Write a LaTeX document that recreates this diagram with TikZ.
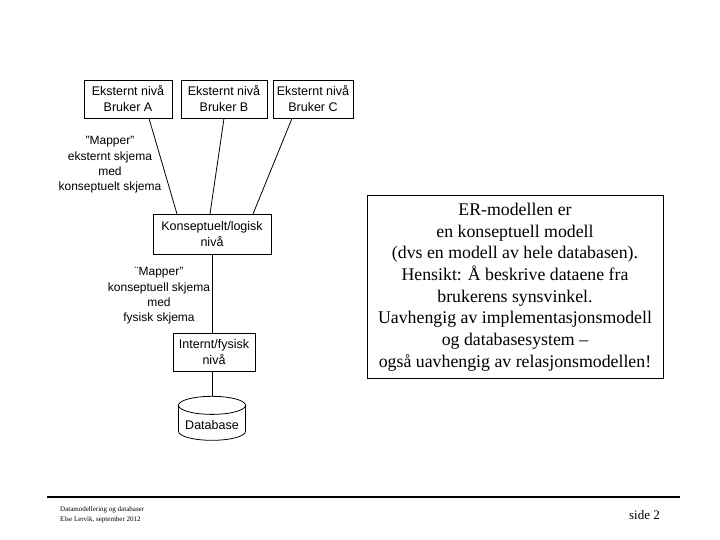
\documentclass[tikz,border=0pt]{standalone}
\usepackage{fontspec}
\setmainfont{Liberation Serif}
\setsansfont{Liberation Sans}
\usetikzlibrary{shapes.geometric,positioning}

\begin{document}
\begin{tikzpicture}[x=1pt,y=-1pt,
    level/.style={draw, thick, fill=white, align=center, inner sep=2pt,
                  font=\sffamily\fontsize{12.5}{16}\selectfont},
    maplabel/.style={align=center, font=\sffamily\fontsize{12}{15.3}\selectfont},
    link/.style={thick},
    infobox/.style={draw, thick, align=center, minimum width=296pt, minimum height=183pt,
                    font=\fontsize{17.8}{21.7}\selectfont}
]
\useasboundingbox (0,0) rectangle (720,540);

% External levels
\node[level, minimum width=88pt, minimum height=38pt] (extA) at (128, 99) {Eksternt nivå\\Bruker A};
\node[level, minimum width=86pt, minimum height=38pt] (extB) at (224, 99) {Eksternt nivå\\Bruker B};
\node[level, minimum width=80pt, minimum height=38pt] (extC) at (313, 99) {Eksternt nivå\\Bruker C};

% Conceptual and internal levels
\node[level, minimum width=118pt, minimum height=40pt] (concept) at (212, 234) {Konseptuelt/logisk\\nivå};
\node[level, minimum width=82pt, minimum height=38pt] (intern) at (214, 352) {Internt/fysisk\\nivå};
\node[draw, thick, cylinder, shape border rotate=90, aspect=0.3,
      minimum width=67pt, minimum height=44pt, font=\sffamily\fontsize{12.5}{16}\selectfont]
      (db) at (212, 425) {Database};

\coordinate (cA) at (177, 214);
\coordinate (cB) at (210, 214);
\coordinate (cC) at (253, 214);
\draw[link] (extA.south -| 149,0) -- (cA);
\draw[link] (extB.south -| 224,0) -- (cB);
\draw[link] (extC.south -| 292,0) -- (cC);
\draw[link] (concept.south) -- (intern.north -| concept.south);
\draw[link] (intern.south -| concept.south) -- (db.north -| concept.south);

% Mapping labels
\node[maplabel] (map1) at (110, 165) {”Mapper”\\eksternt skjema\\med\\konseptuelt skjema};
\node[maplabel] (map2) at (159, 296) {¨Mapper”\\konseptuell skjema\\med\\fysisk skjema};

% Comment box
\node[infobox] (info) at (515, 287) {ER-modellen er\\en konseptuell modell\\(dvs en modell av hele databasen).\\Hensikt: Å beskrive dataene fra\\brukerens synsvinkel.\\Uavhengig av implementasjonsmodell\\og databasesystem --\\også uavhengig av relasjonsmodellen!};

% Footer
\coordinate (fl) at (47, 497);
\coordinate (fr) at (680, 497);
\draw[line width=1.5pt] (fl) -- (fr);
\node[anchor=north west, align=left, inner sep=0pt, font=\fontsize{7}{10}\selectfont] (foot) at (60, 506)
  {Datamodellering og databaser\\Else Lervik, september 2012};
\node[anchor=east, inner sep=0pt, font=\fontsize{13}{15}\selectfont] (side) at (660, 515) {side 2};
\end{tikzpicture}
\end{document}
